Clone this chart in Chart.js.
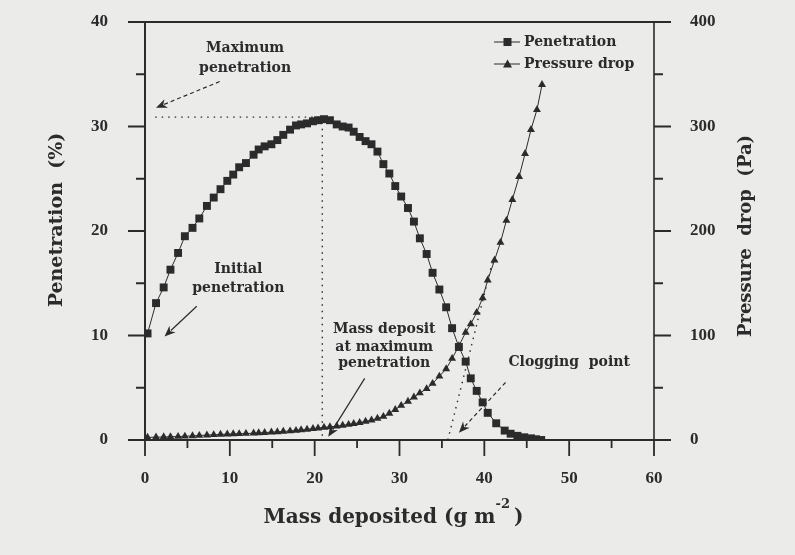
<!DOCTYPE html>
<html>
<head>
<meta charset="utf-8">
<title>Penetration and pressure drop</title>
<script src="https://cdn.jsdelivr.net/npm/chart.js@4.4.1/dist/chart.umd.min.js"></script>
<style>
  html, body { margin: 0; padding: 0; background: #ebebea; }
  #wrap { width: 795px; height: 555px; }
</style>
</head>
<body>
<div id="wrap"><canvas id="myChart" width="795" height="555"></canvas></div>
<script>
// mass deposited (g m-2) for each penetration reading
const penetrationMass = [0.3, 1.3, 2.2, 3.0, 3.9, 4.7, 5.6, 6.4, 7.3, 8.1, 8.9, 9.7, 10.4, 11.1, 11.9,
  12.8, 13.4, 14.1, 14.9, 15.6, 16.3, 17.1, 17.8, 18.4, 19.1, 19.8, 20.4, 21.1, 21.8, 22.6, 23.3, 24.0,
  24.6, 25.3, 26.0, 26.7, 27.4, 28.1, 28.8, 29.5, 30.2, 31.0, 31.7, 32.4, 33.2, 33.9, 34.7, 35.5, 36.2,
  37.0, 37.8, 38.4, 39.1, 39.8, 40.4, 41.4, 42.4, 43.1, 43.9, 44.7, 45.5, 46.1, 46.7];
const penetration = [10.2, 13.1, 14.6, 16.3, 17.9, 19.5, 20.3, 21.2, 22.4, 23.2, 24.0, 24.8, 25.4, 26.1, 26.5,
  27.3, 27.8, 28.1, 28.3, 28.7, 29.2, 29.7, 30.1, 30.2, 30.3, 30.5, 30.6, 30.7, 30.6, 30.2, 30.0, 29.9,
  29.5, 29.0, 28.6, 28.3, 27.6, 26.4, 25.5, 24.3, 23.3, 22.2, 20.9, 19.3, 17.8, 16.0, 14.4, 12.7, 10.7,
  8.9, 7.5, 5.9, 4.7, 3.6, 2.6, 1.6, 0.9, 0.6, 0.4, 0.26, 0.16, 0.07, 0.0];

// mass deposited (g m-2) for each pressure drop reading
const pressureMass = [0.3, 1.3, 2.2, 3.0, 3.9, 4.7, 5.6, 6.4, 7.3, 8.1, 8.9, 9.7, 10.4, 11.1, 11.9,
  12.8, 13.4, 14.1, 14.9, 15.6, 16.3, 17.1, 17.8, 18.4, 19.1, 19.8, 20.4, 21.1, 21.8, 22.6, 23.3, 24.0,
  24.6, 25.3, 26.0, 26.7, 27.4, 28.1, 28.8, 29.5, 30.2, 31.0, 31.7, 32.4, 33.2, 33.9, 34.7, 35.5, 36.2,
  37.0, 37.8, 38.4, 39.1, 39.8, 40.4, 41.2, 41.9, 42.6, 43.3, 44.1, 44.8, 45.5, 46.2, 46.8];
const pressureDrop = [2.5, 2.7, 2.9, 3.1, 3.3, 3.6, 3.9, 4.3, 4.7, 5.0, 5.3, 5.6, 5.8, 6.0, 6.2,
  6.5, 6.8, 7.1, 7.5, 7.8, 8.2, 8.6, 9.1, 9.6, 10.2, 10.8, 11.4, 12.0, 12.6, 13.3, 14.0, 14.8,
  15.6, 16.6, 17.8, 19.0, 20.6, 22.5, 25.5, 29, 33, 37, 41, 45, 49, 54, 61, 68, 78,
  90, 103, 111, 122, 136, 153, 172, 189, 210, 230, 252, 274, 297, 316, 340];

// dotted guide lines
const maxLineMass = [1.2, 20.9];
const maxLineValue = [30.9, 30.9];
const peakLineMass = [20.9, 20.9];
const peakLineValue = [30.4, 0];
const clogLineMass = [35.7, 41.0];
const clogLinePressure = [0, 172];

const massTicks = [0, 10, 20, 30, 40, 50, 60];
const penetrationTicks = [0, 10, 20, 30, 40];
const pressureTicks = [0, 100, 200, 300, 400];

const ink = '#2b2b2b';
const serif = '"DejaVu Serif", serif';
const tickFont = { family: '"Liberation Serif", serif', size: 17, weight: 'bold' };

function pts(xs, ys) {
  return xs.map((x, i) => ({ x: x, y: ys[i] }));
}

function arrow(ctx, x1, y1, x2, y2, dashed) {
  const a = Math.atan2(y2 - y1, x2 - x1);
  const len = 11, half = 4.5;
  ctx.save();
  ctx.strokeStyle = ink;
  ctx.fillStyle = ink;
  ctx.lineWidth = 1.2;
  if (dashed) ctx.setLineDash([4, 3]);
  ctx.beginPath();
  ctx.moveTo(x1, y1);
  ctx.lineTo(x2 - Math.cos(a) * len * 0.8, y2 - Math.sin(a) * len * 0.8);
  ctx.stroke();
  ctx.setLineDash([]);
  ctx.beginPath();
  ctx.moveTo(x2, y2);
  ctx.lineTo(x2 - Math.cos(a) * len + Math.sin(a) * half, y2 - Math.sin(a) * len - Math.cos(a) * half);
  ctx.lineTo(x2 - Math.cos(a) * len * 0.7, y2 - Math.sin(a) * len * 0.7);
  ctx.lineTo(x2 - Math.cos(a) * len - Math.sin(a) * half, y2 - Math.sin(a) * len + Math.cos(a) * half);
  ctx.closePath();
  ctx.fill();
  ctx.restore();
}

const decorations = {
  id: 'decorations',
  afterDraw(chart) {
    const ctx = chart.ctx;
    const { left, right, top, bottom } = chart.chartArea;
    const x = chart.scales.x, y = chart.scales.y, y1 = chart.scales.y1;
    ctx.save();
    ctx.strokeStyle = ink;

    // frame
    ctx.lineWidth = 2;
    ctx.beginPath();
    ctx.moveTo(left, top); ctx.lineTo(left, bottom); ctx.lineTo(right, bottom);
    ctx.moveTo(left, top); ctx.lineTo(right, top);
    ctx.stroke();
    ctx.lineWidth = 1.6;
    ctx.beginPath();
    ctx.moveTo(right, top); ctx.lineTo(right, bottom);
    ctx.stroke();

    // major and minor ticks, pointing outwards
    ctx.lineWidth = 1.8;
    ctx.beginPath();
    for (let v = 0; v <= 60; v += 5) {
      const px = x.getPixelForValue(v);
      ctx.moveTo(px, bottom); ctx.lineTo(px, bottom + (v % 10 === 0 ? 16 : 8));
    }
    for (let v = 0; v <= 40; v += 5) {
      const py = y.getPixelForValue(v);
      ctx.moveTo(left, py); ctx.lineTo(left - (v % 10 === 0 ? 17 : 9), py);
    }
    for (let v = 0; v <= 400; v += 50) {
      const py = y1.getPixelForValue(v);
      ctx.moveTo(right, py); ctx.lineTo(right + (v % 100 === 0 ? 17 : 9), py);
    }
    ctx.stroke();

    ctx.fillStyle = ink;
    ctx.textAlign = 'center';
    ctx.textBaseline = 'middle';

    // axis titles
    ctx.font = 'bold 20px ' + serif;
    const xt1 = 'Mass deposited (g m';
    const w1 = ctx.measureText(xt1).width;
    ctx.font = 'bold 13px ' + serif;
    const w2 = ctx.measureText('-2').width;
    ctx.font = 'bold 20px ' + serif;
    const w3 = ctx.measureText(')').width;
    const total = w1 + w2 + 4 + w3;
    const cx = (left + right) / 2 - 6;
    let sx = cx - total / 2;
    ctx.textAlign = 'left';
    ctx.fillText(xt1, sx, 518);
    ctx.font = 'bold 13px ' + serif;
    ctx.fillText('-2', sx + w1, 505);
    ctx.font = 'bold 20px ' + serif;
    ctx.fillText(')', sx + w1 + w2 + 4, 518);
    ctx.textAlign = 'center';

    ctx.font = 'bold 19px ' + serif;
    ctx.save();
    ctx.translate(57, 220);
    ctx.rotate(-Math.PI / 2);
    ctx.fillText('Penetration  (%)', 0, 0);
    ctx.restore();
    ctx.save();
    ctx.translate(746, 236);
    ctx.rotate(-Math.PI / 2);
    ctx.font = 'bold 18px ' + serif;
    ctx.fillText('Pressure  drop  (Pa)', 0, 0);
    ctx.restore();

    // annotations placed in data units
    ctx.font = 'bold 14px ' + serif;
    const P = (m, v) => [x.getPixelForValue(m), y.getPixelForValue(v)];
    let p = P(11.8, 37.5); ctx.fillText('Maximum', p[0], p[1]);
    p = P(11.8, 35.6); ctx.fillText('penetration', p[0], p[1]);
    arrow(ctx, ...P(8.8, 34.3), ...P(1.3, 31.8), true);

    p = P(11.0, 16.3); ctx.fillText('Initial', p[0], p[1]);
    p = P(11.0, 14.5); ctx.fillText('penetration', p[0], p[1]);
    arrow(ctx, ...P(6.1, 12.8), ...P(2.3, 9.9), false);

    p = P(28.2, 10.6); ctx.fillText('Mass deposit', p[0], p[1]);
    p = P(28.2, 8.9); ctx.fillText('at maximum', p[0], p[1]);
    p = P(28.2, 7.3); ctx.fillText('penetration', p[0], p[1]);
    arrow(ctx, ...P(25.9, 5.9), ...P(21.6, 0.3), false);

    p = P(50.0, 7.4); ctx.fillText('Clogging  point', p[0], p[1]);
    arrow(ctx, ...P(42.5, 5.5), ...P(37.0, 0.7), true);

    // legend
    ctx.textAlign = 'left';
    const lx = right - 160;
    chart.data.datasets.slice(0, 2).forEach((ds, i) => {
      const ly = top + 20 + i * 22;
      ctx.lineWidth = 1;
      ctx.beginPath();
      ctx.moveTo(lx, ly); ctx.lineTo(lx + 26, ly);
      ctx.stroke();
      ctx.beginPath();
      if (i === 0) {
        ctx.rect(lx + 9.5, ly - 4, 8, 8);
      } else {
        ctx.moveTo(lx + 13.5, ly - 4.5); ctx.lineTo(lx + 18, ly + 3.5); ctx.lineTo(lx + 9, ly + 3.5);
        ctx.closePath();
      }
      ctx.fill();
      ctx.font = 'bold 14px ' + serif;
      ctx.fillText(ds.label, lx + 30, ly);
    });
    ctx.restore();
  }
};

const guide = {
  showLine: true, borderColor: ink, borderWidth: 1.4, borderDash: [1.5, 5],
  pointRadius: 0, fill: false
};

// vertical scales: fixed width, no extra top/bottom padding from labels
function fixVertical(width) {
  return s => { s.width = width; s.paddingTop = 0; s.paddingBottom = 0; };
}

new Chart(document.getElementById('myChart'), {
  type: 'scatter',
  data: {
    datasets: [
      {
        label: 'Penetration',
        data: pts(penetrationMass, penetration),
        yAxisID: 'y',
        showLine: true,
        borderColor: ink,
        borderWidth: 1,
        pointStyle: 'rect',
        pointRadius: 5.6,
        pointBackgroundColor: ink,
        pointBorderColor: ink,
        pointBorderWidth: 0
      },
      {
        label: 'Pressure drop',
        data: pts(pressureMass, pressureDrop),
        yAxisID: 'y1',
        showLine: true,
        borderColor: ink,
        borderWidth: 1,
        pointStyle: 'triangle',
        pointRadius: 4.6,
        pointBackgroundColor: ink,
        pointBorderColor: ink,
        pointBorderWidth: 0
      },
      Object.assign({ label: 'max', data: pts(maxLineMass, maxLineValue), yAxisID: 'y' }, guide),
      Object.assign({ label: 'peak', data: pts(peakLineMass, peakLineValue), yAxisID: 'y' }, guide),
      Object.assign({ label: 'clog', data: pts(clogLineMass, clogLinePressure), yAxisID: 'y1' }, guide)
    ]
  },
  options: {
    responsive: false,
    animation: false,
    layout: { padding: { top: 22, left: 0, right: 0, bottom: 0 } },
    plugins: { legend: { display: false }, tooltip: { enabled: false } },
    scales: {
      x: {
        type: 'linear', min: 0, max: 60,
        grid: { display: false }, border: { display: false },
        afterBuildTicks: s => { s.ticks = massTicks.map(v => ({ value: v })); },
        ticks: { color: ink, font: tickFont, padding: 20, maxRotation: 0 },
        afterFit: s => { s.height = 115; }
      },
      y: {
        type: 'linear', position: 'left', min: 0, max: 40,
        grid: { display: false }, border: { display: false },
        afterBuildTicks: s => { s.ticks = penetrationTicks.map(v => ({ value: v })); },
        ticks: { color: ink, font: tickFont, padding: 29 },
        afterFit: fixVertical(145)
      },
      y1: {
        type: 'linear', position: 'right', min: 0, max: 400,
        grid: { display: false }, border: { display: false },
        afterBuildTicks: s => { s.ticks = pressureTicks.map(v => ({ value: v })); },
        ticks: { color: ink, font: tickFont, padding: 28 },
        afterFit: fixVertical(141)
      }
    }
  },
  plugins: [decorations]
});
</script>
</body>
</html>
